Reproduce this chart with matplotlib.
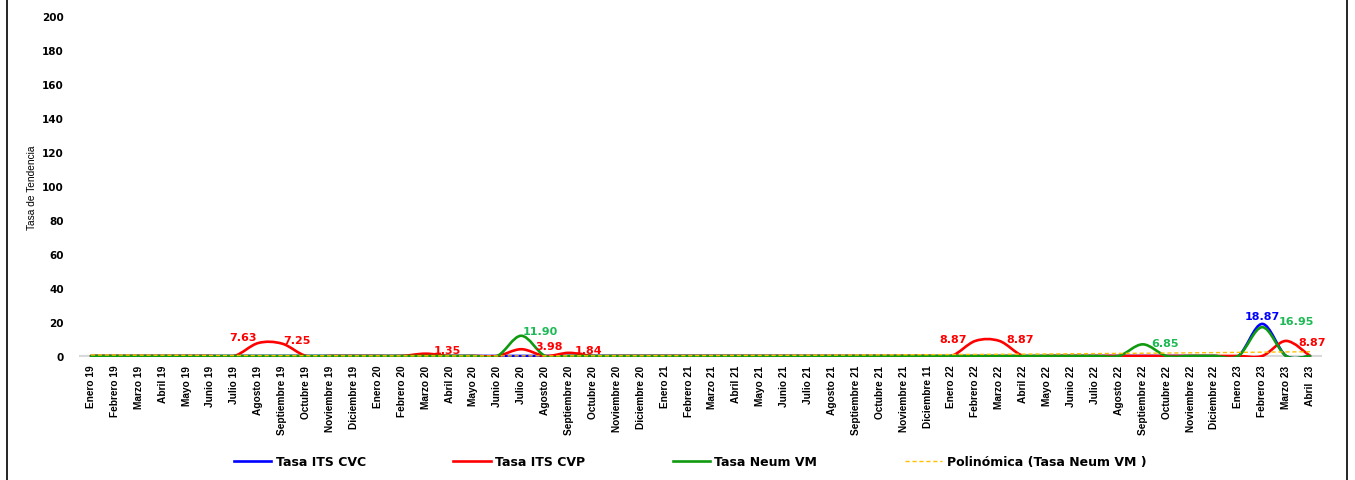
import matplotlib
matplotlib.use("Agg")
import matplotlib.pyplot as plt
from matplotlib.path import Path
from matplotlib.patches import PathPatch
from matplotlib.lines import Line2D
from matplotlib import font_manager
import numpy as np

# ---------------- data ----------------
months = [
    "Enero 19", "Febrero 19", "Marzo 19", "Abril 19", "Mayo 19", "Junio 19",
    "Julio 19", "Agosto 19", "Septiembre 19", "Octubre 19", "Noviembre 19", "Diciembre 19",
    "Enero 20", "Febrero 20", "Marzo 20", "Abril 20", "Mayo 20", "Junio 20",
    "Julio 20", "Agosto 20", "Septiembre 20", "Octubre 20", "Noviembre 20", "Diciembre 20",
    "Enero 21", "Febrero 21", "Marzo 21", "Abril 21", "Mayo 21", "Junio 21",
    "Julio 21", "Agosto 21", "Septiembre 21", "Octubre 21", "Noviembre 21", "Diciembre 11",
    "Enero 22", "Febrero 22", "Marzo 22", "Abril 22", "Mayo 22", "Junio 22",
    "Julio 22", "Agosto 22", "Septiembre 22", "Octubre 22", "Noviembre 22", "Diciembre 22",
    "Enero 23", "Febrero 23", "Marzo 23", "Abril  23",
]

tasa_its_cvc = [
    0, 0, 0, 0, 0, 0, 0, 0, 0, 0, 0, 0,
    0, 0, 0, 0, 0, 0, 0, 0, 0, 0, 0, 0,
    0, 0, 0, 0, 0, 0, 0, 0, 0, 0, 0, 0,
    0, 0, 0, 0, 0, 0, 0, 0, 0, 0, 0, 0,
    0, 18.87, 0, 0,
]
tasa_its_cvp = [
    0, 0, 0, 0, 0, 0, 0, 7.63, 7.25, 0, 0, 0,
    0, 0, 1.35, 0, 0, 0, 3.98, 0, 1.84, 0, 0, 0,
    0, 0, 0, 0, 0, 0, 0, 0, 0, 0, 0, 0,
    0, 8.87, 8.87, 0, 0, 0, 0, 0, 0, 0, 0, 0,
    0, 0, 8.87, 0,
]
tasa_neum_vm = [
    0, 0, 0, 0, 0, 0, 0, 0, 0, 0, 0, 0,
    0, 0, 0, 0, 0, 0, 11.90, 0, 0, 0, 0, 0,
    0, 0, 0, 0, 0, 0, 0, 0, 0, 0, 0, 0,
    0, 0, 0, 0, 0, 0, 0, 0, 6.85, 0, 0, 0,
    0, 16.95, 0, 0,
]

series_names = ["Tasa ITS CVC", "Tasa ITS CVP", "Tasa Neum VM", "Polinómica (Tasa Neum VM )"]
y_ticks = [0, 20, 40, 60, 80, 100, 120, 140, 160, 180, 200]

# ---------------- style ----------------
W, H = 1355, 481
c_blue, c_red, c_green, c_trend = "#0000FF", "#FF0000", "#109A10", "#FFC000"
c_green_lbl = "#1DB954"

avail = {f.name for f in font_manager.fontManager.ttflist}
narrow = "Liberation Sans" if "Liberation Sans" in avail else "DejaVu Sans"

fig = plt.figure(figsize=(W / 100, H / 100), dpi=100)
ax = fig.add_axes([79 / W, (H - 358) / H, (1322 - 79) / W, (358 - 17) / H])

x = np.arange(len(months))


def smooth_patch(xs, ys, color, lw, z):
    pts = np.column_stack([xs, ys]).astype(float)
    n = len(pts)
    verts = [tuple(pts[0])]
    codes = [Path.MOVETO]
    for i in range(n - 1):
        p0 = pts[i - 1] if i > 0 else pts[i]
        p1 = pts[i]
        p2 = pts[i + 1]
        p3 = pts[i + 2] if i + 2 < n else pts[i + 1]
        c1 = p1 + (p2 - p0) / 6.0
        c2 = p2 - (p3 - p1) / 6.0
        verts += [tuple(c1), tuple(c2), tuple(p2)]
        codes += [Path.CURVE4] * 3
    patch = PathPatch(Path(verts, codes), facecolor="none", edgecolor=color,
                      lw=lw, zorder=z, capstyle="round", joinstyle="round")
    ax.add_patch(patch)


ax.axhline(0, color="#D9D9D9", lw=1.6, zorder=1)
smooth_patch(x, tasa_its_cvc, c_blue, 1.9, 3)
smooth_patch(x, tasa_its_cvp, c_red, 1.9, 4)
smooth_patch(x, tasa_neum_vm, c_green, 1.9, 5)

# polynomial (order 2) trendline of Tasa Neum VM
coef = np.polyfit(x + 1, np.array(tasa_neum_vm, dtype=float), 2)
xf = np.linspace(0, len(months) - 1, 300)
ax.plot(xf, np.polyval(coef, xf + 1), color=c_trend, lw=1.0, ls=(0, (3, 2)), zorder=6)

ax.set_xlim(-0.5, len(months) - 0.5)
ax.set_ylim(-0.6, 200)
for s in ax.spines.values():
    s.set_visible(False)

ax.set_yticks(y_ticks)
ax.set_yticklabels([str(v) for v in y_ticks], fontsize=7.5, fontweight="bold")
ax.set_xticks(x)
ax.set_xticklabels(months, rotation=90, fontsize=7.3, family=narrow, fontweight="bold")
ax.tick_params(axis="y", length=0, pad=10.8)
ax.tick_params(axis="x", length=0, pad=5.5)
ax.set_ylabel("Tasa de Tendencia", family=narrow, fontsize=7.3, labelpad=4)

# data labels (series, index, dx px, dy px, color)
labels = [
    (tasa_its_cvp, 7, -15, 6, c_red),
    (tasa_its_cvp, 8, 15, 4, c_red),
    (tasa_its_cvp, 14, 22, 4, c_red),
    (tasa_neum_vm, 18, 19, 5, c_green_lbl),
    (tasa_its_cvp, 18, 28, 3, c_red),
    (tasa_its_cvp, 20, 19, 3, c_red),
    (tasa_its_cvp, 37, -22, 2, c_red),
    (tasa_its_cvp, 38, 21, 2, c_red),
    (tasa_neum_vm, 44, 22, 1, c_green_lbl),
    (tasa_its_cvc, 49, 0, 8, c_blue),
    (tasa_neum_vm, 49, 34, 6, c_green_lbl),
    (tasa_its_cvp, 50, 26, -1, c_red),
]
for ser, i, dx, dy, col in labels:
    ax.annotate(f"{ser[i]:.2f}", (x[i], ser[i]), xytext=(dx, dy), textcoords="offset pixels",
                ha="center", va="center", fontsize=8, fontweight="bold", color=col, zorder=7)

handles = [
    Line2D([], [], color=c_blue, lw=1.9),
    Line2D([], [], color=c_red, lw=1.9),
    Line2D([], [], color=c_green, lw=1.9),
    Line2D([], [], color=c_trend, lw=1.0, ls=(0, (3, 2))),
]
fig.legend(handles, series_names, loc="center", bbox_to_anchor=(690 / W, (H - 463) / H),
           ncol=4, frameon=False, prop={"size": 9, "weight": "bold"},
           handlelength=3.0, handletextpad=0.35, columnspacing=7.0)

# outer border (left / right)
fig.add_artist(Line2D([7 / W, 7 / W], [0, 1], color="black", lw=1.2, transform=fig.transFigure))
fig.add_artist(Line2D([1347 / W, 1347 / W], [0, 1], color="black", lw=1.2, transform=fig.transFigure))

fig.savefig("out.png", dpi=100)
